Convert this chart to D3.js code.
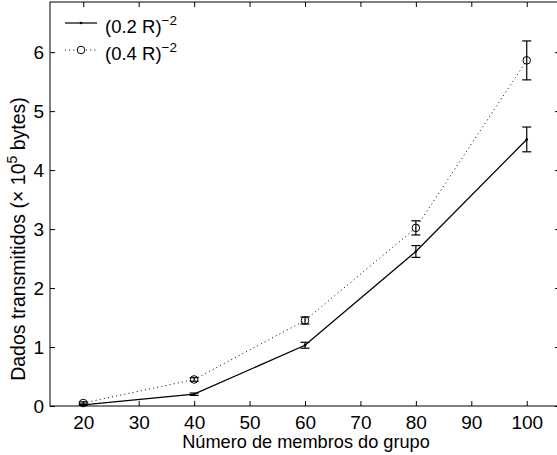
<!DOCTYPE html>
<html><head><meta charset="utf-8">
<script src="https://cdn.jsdelivr.net/npm/d3@7/dist/d3.min.js"></script>
<style>body{margin:0;background:#fff}svg{display:block}text{font-family:"Liberation Sans",Arial,sans-serif}</style>
</head><body>
<script>
const groupSizes = [20, 40, 60, 80, 100];
const seriesA = [0.02, 0.20, 1.03, 2.62, 4.52];
const errA = [0.01, 0.02, 0.05, 0.10, 0.21];
const seriesB = [0.05, 0.45, 1.45, 3.02, 5.86];
const errB = [0.02, 0.03, 0.06, 0.12, 0.33];
const xTicks = [20, 30, 40, 50, 60, 70, 80, 90, 100];
const yTicks = [0, 1, 2, 3, 4, 5, 6];

const W = 557, H = 455;
const L = 50, R = 560, T = 2, B = 406;
const svg = d3.select("body").append("svg").attr("width", W).attr("height", H);
const x = d3.scaleLinear().domain([14, 106]).range([L, R]);
const y = d3.scaleLinear().domain([0, 6.85]).range([B, T]);

svg.append("rect").attr("x", L).attr("y", T).attr("width", R - L).attr("height", B - T)
  .attr("fill", "none").attr("stroke", "#000").attr("stroke-width", 1);

const fs = 19;
const xb = svg.append("g").attr("transform", `translate(0,${B})`)
  .call(d3.axisBottom(x).tickValues(xTicks).tickSizeInner(-5).tickSizeOuter(0).tickPadding(10).tickFormat(d3.format("d")));
const xt = svg.append("g").attr("transform", `translate(0,${T})`)
  .call(d3.axisTop(x).tickValues(xTicks).tickSizeInner(-5).tickSizeOuter(0).tickFormat(""));
const yl = svg.append("g").attr("transform", `translate(${L},0)`)
  .call(d3.axisLeft(y).tickValues(yTicks).tickSizeInner(-5).tickSizeOuter(0).tickPadding(6).tickFormat(d3.format("d")));
const yr = svg.append("g").attr("transform", `translate(${R},0)`)
  .call(d3.axisRight(y).tickValues(yTicks).tickSizeInner(-5).tickSizeOuter(0).tickFormat(""));
[xb, xt, yl, yr].forEach(g => {
  g.attr("font-size", null).attr("font-family", null);
  g.select(".domain").remove();
  g.selectAll("line").attr("stroke", "#000");
  g.selectAll("text").style("font-size", fs + "px").attr("fill", "#000")
    .style("font-family", '"Liberation Sans",Arial,sans-serif');
});

const line = d3.line().x((d, i) => x(groupSizes[i])).y(d => y(d));
svg.append("path").datum(seriesB).attr("d", line).attr("fill", "none")
  .attr("stroke", "#000").attr("stroke-width", 1).attr("stroke-dasharray", "1,3.2");
svg.append("path").datum(seriesA).attr("d", line).attr("fill", "none")
  .attr("stroke", "#000").attr("stroke-width", 1.3);

function errBars(vals, errs) {
  const g = svg.append("g").attr("stroke", "#000").attr("stroke-width", 1.2);
  vals.forEach((v, i) => {
    const cx = x(groupSizes[i]);
    const y1 = y(v + errs[i]), y0 = y(v - errs[i]);
    g.append("line").attr("x1", cx).attr("x2", cx).attr("y1", y1).attr("y2", y0);
    g.append("line").attr("x1", cx - 4.5).attr("x2", cx + 4.5).attr("y1", y1).attr("y2", y1);
    g.append("line").attr("x1", cx - 4.5).attr("x2", cx + 4.5).attr("y1", y0).attr("y2", y0);
  });
}
errBars(seriesA, errA);
errBars(seriesB, errB);

svg.append("g").selectAll("circle").data(seriesB).join("circle")
  .attr("cx", (d, i) => x(groupSizes[i])).attr("cy", d => y(d)).attr("r", 3.8)
  .attr("fill", "none").attr("stroke", "#000").attr("stroke-width", 1);
svg.append("g").selectAll("circle").data(seriesA).join("circle")
  .attr("cx", (d, i) => x(groupSizes[i])).attr("cy", d => y(d)).attr("r", 1.3)
  .attr("fill", "#000");

// legend
const lg = svg.append("g");
lg.append("line").attr("x1", 65).attr("x2", 97).attr("y1", 23).attr("y2", 23)
  .attr("stroke", "#000").attr("stroke-width", 1.2);
lg.append("circle").attr("cx", 81).attr("cy", 23).attr("r", 1.3).attr("fill", "#000");
lg.append("line").attr("x1", 65).attr("x2", 97).attr("y1", 50).attr("y2", 50)
  .attr("stroke", "#000").attr("stroke-width", 1).attr("stroke-dasharray", "1,3.2");
lg.append("circle").attr("cx", 81).attr("cy", 50).attr("r", 3.8).attr("fill", "#fff")
  .attr("stroke", "#000").attr("stroke-width", 1);
function legText(yy, s) {
  const t = lg.append("text").attr("x", 105).attr("y", yy).style("font-size", "18.5px").attr("fill", "#000");
  t.append("tspan").text(s);
  t.append("tspan").attr("dy", -8).style("font-size", "13.5px").text("\u22122");
}
legText(33, "(0.2 R)");
legText(60, "(0.4 R)");

// axis titles
svg.append("text").attr("x", 306).attr("y", 448).attr("text-anchor", "middle")
  .style("font-size", "18.2px").attr("fill", "#000").text("Número de membros do grupo");

const ys = 19.5;
const yt = svg.append("text").attr("transform", `translate(25,239) rotate(-90)`)
  .attr("text-anchor", "middle").style("font-size", ys + "px").attr("fill", "#000");
yt.append("tspan").text("Dados transmitidos (\u00d7 10");
yt.append("tspan").attr("dy", -8).style("font-size", "14px").text("5");
yt.append("tspan").attr("dy", 8).text(" bytes)");
</script>
</body></html>
